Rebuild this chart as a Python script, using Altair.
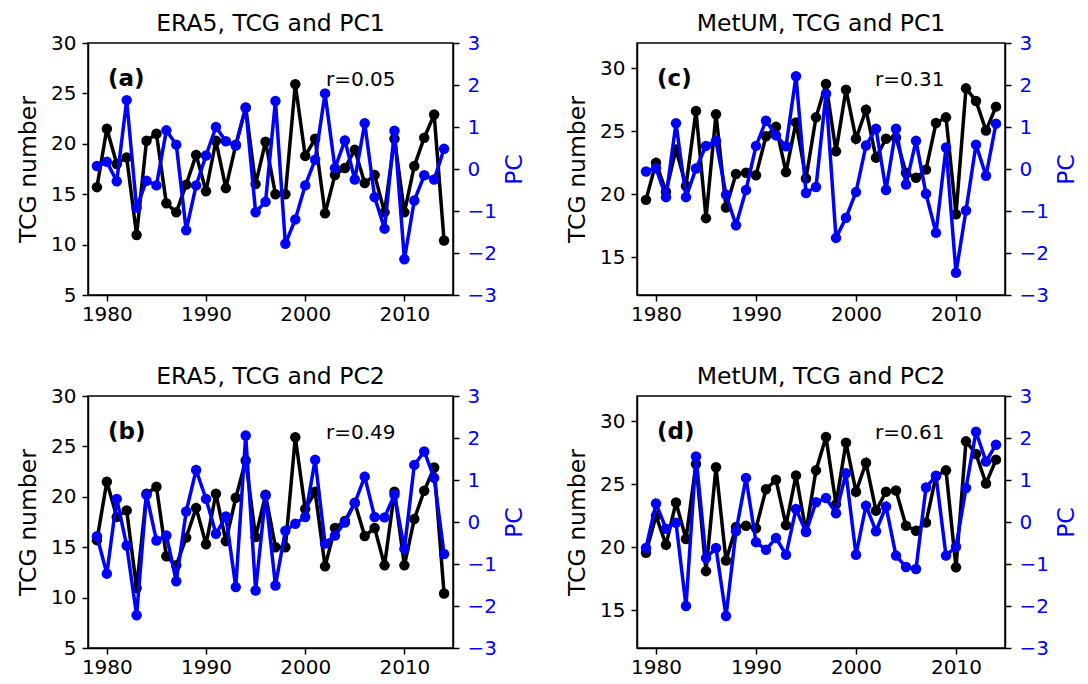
import altair as alt
import pandas as pd

years = list(range(1979, 2015))

tcg_era5 = [15.7, 21.5, 18.0, 18.65, 10.95, 20.3, 21.0, 14.1, 13.2, 15.95,
            18.9, 15.3, 20.3, 15.6, 19.9, 23.6, 16.0, 20.2, 15.0, 15.0,
            25.9, 18.8, 20.5, 13.1, 16.9, 17.6, 19.4, 16.1, 16.9, 13.2,
            20.5, 13.2, 17.8, 20.6, 22.9, 10.4]

pc1_era5 = [0.07, 0.17, -0.29, 1.64, -0.92, -0.28, -0.39, 0.92, 0.58, -1.46,
            -0.39, 0.32, 1.0, 0.66, 0.56, 1.46, -1.03, -0.78, 1.62, -1.78,
            -1.2, -0.39, 0.22, 1.8, 0.02, 0.68, -0.25, 1.09, -0.67, -1.42,
            0.91, -2.15, -0.75, -0.15, -0.25, 0.48]

pc2_era5 = [-0.34, -1.23, 0.55, -0.56, -2.22, 0.65, -0.44, -0.32, -1.41, 0.25,
            1.24, 0.55, -0.28, 0.13, -1.55, 2.06, -1.63, 0.63, -1.51, -0.21,
            -0.04, 0.12, 1.48, -0.51, -0.32, -0.01, 0.45, 1.08, 0.12, 0.11,
            0.65, -0.64, 1.36, 1.68, 1.05, -0.76]

tcg_um = [19.55, 22.5, 20.2, 23.55, 20.65, 26.6, 18.1, 26.35, 18.95, 21.6,
          21.7, 21.5, 24.6, 25.35, 21.75, 25.7, 21.25, 26.1, 28.75, 23.4,
          28.3, 24.4, 26.7, 22.9, 24.4, 24.5, 21.7, 21.3, 21.95, 25.65,
          26.1, 18.4, 28.4, 27.4, 25.05, 26.95]

pc1_um = [-0.06, 0.02, -0.67, 1.09, -0.67, 0.01, 0.55, 0.67, -0.61, -1.34,
          -0.5, 0.55, 1.15, 0.8, 0.54, 2.21, -0.57, -0.43, 1.79, -1.64,
          -1.16, -0.55, 0.56, 0.96, -0.5, 0.96, -0.37, 0.67, -0.59, -1.52,
          0.51, -2.47, -0.99, 0.58, -0.16, 1.08]

pc2_um = [-0.62, 0.44, -0.16, -0.02, -2.0, 1.56, -0.86, -0.62, -2.24, -0.22,
          1.05, -0.48, -0.66, -0.38, -0.78, 0.31, -0.24, 0.47, 0.57, 0.21,
          1.16, -0.78, 0.39, -0.22, 0.37, -0.8, -1.07, -1.12, 0.82, 1.1,
          -0.8, -0.59, 0.81, 2.15, 1.44, 1.84]

df = pd.DataFrame({
    "year": years,
    "tcg_era5": tcg_era5, "pc1_era5": pc1_era5, "pc2_era5": pc2_era5,
    "tcg_um": tcg_um, "pc1_um": pc1_um, "pc2_um": pc2_um,
})

FONT = "DejaVu Sans"
H = 252


def panel(tcg_field, pc_field, title, label, rtext, left_domain, left_ticks, W):
    base = alt.Chart(df).encode(
        x=alt.X("year:Q",
                scale=alt.Scale(domain=[1978.1, 2014.9], nice=False, zero=False),
                axis=alt.Axis(values=[1980, 1990, 2000, 2010], format="d",
                              title=None, labelPadding=3))
    )
    black = base.mark_line(
        color="black", strokeWidth=3.5,
        point=alt.OverlayMarkDef(color="black", size=110, filled=True, opacity=1),
    ).encode(
        y=alt.Y(f"{tcg_field}:Q",
                scale=alt.Scale(domain=left_domain, nice=False, zero=False),
                axis=alt.Axis(values=left_ticks, title="TCG number",
                              orient="left", labelPadding=6, titlePadding=10))
    )
    blue = base.mark_line(
        color="blue", strokeWidth=3.5,
        point=alt.OverlayMarkDef(color="blue", size=110, filled=True, opacity=1),
    ).encode(
        y=alt.Y(f"{pc_field}:Q",
                scale=alt.Scale(domain=[-3, 3], nice=False, zero=False),
                axis=alt.Axis(values=[-3, -2, -1, 0, 1, 2, 3], title="PC",
                              orient="right", labelColor="blue",
                              titleColor="blue", labelPadding=8,
                              titlePadding=30, titleAngle=270))
    )
    lab = alt.Chart(pd.DataFrame({"t": [label]})).mark_text(
        font=FONT, fontSize=23, fontWeight="bold", align="left",
        baseline="alphabetic", color="black",
    ).encode(x=alt.value(20), y=alt.value(43), text="t:N")
    rt = alt.Chart(pd.DataFrame({"t": [rtext]})).mark_text(
        font=FONT, fontSize=20, align="left", baseline="alphabetic",
        color="black",
    ).encode(x=alt.value(238), y=alt.value(43), text="t:N")
    return alt.layer(black, blue, lab, rt).resolve_scale(y="independent").properties(
        width=W, height=H,
        title=alt.TitleParams(title, font=FONT, fontSize=23.5,
                              fontWeight="normal", offset=-2, color="black"),
    )


pa = panel("tcg_era5", "pc1_era5", "ERA5, TCG and PC1", "(a)", "r=0.05",
           [5, 30], [5, 10, 15, 20, 25, 30], 365)
pb = panel("tcg_era5", "pc2_era5", "ERA5, TCG and PC2", "(b)", "r=0.49",
           [5, 30], [5, 10, 15, 20, 25, 30], 365)
pc = panel("tcg_um", "pc1_um", "MetUM, TCG and PC1", "(c)", "r=0.31",
           [12, 32], [15, 20, 25, 30], 368)
pd_ = panel("tcg_um", "pc2_um", "MetUM, TCG and PC2", "(d)", "r=0.61",
            [12, 32], [15, 20, 25, 30], 368)

chart = alt.vconcat(
    alt.hconcat(pa, pc, spacing=37),
    alt.hconcat(pb, pd_, spacing=37),
    spacing=38,
).properties(
    padding={"left": 7, "top": 2, "right": 0, "bottom": 0}
).configure_view(
    stroke="black", strokeWidth=1.5
).configure_axis(
    labelFont=FONT, titleFont=FONT, labelFontSize=20, titleFontSize=23.5,
    titleFontWeight="normal", tickColor="black", domainColor="black",
    tickSize=6, tickWidth=1.5, domainWidth=1.5, grid=False,
    labelColor="black", titleColor="black",
).configure_title(anchor="middle")

chart.save("out.html", embed_options={"renderer": "svg", "actions": False})
